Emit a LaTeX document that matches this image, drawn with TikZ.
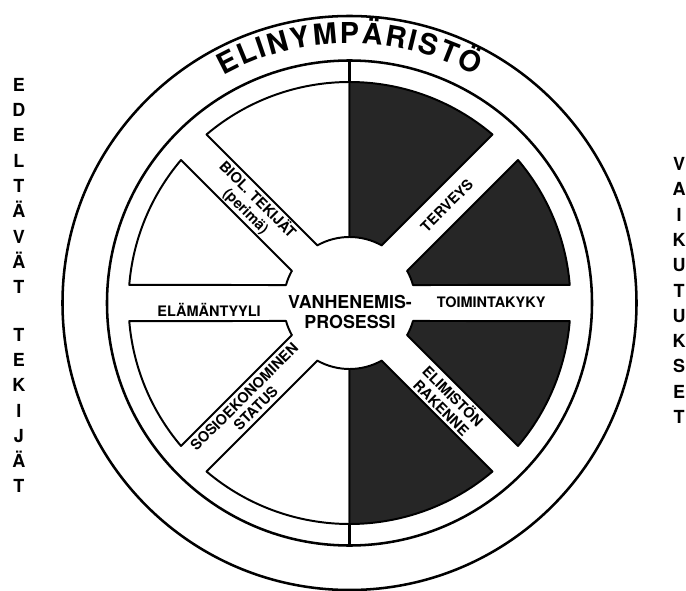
\documentclass[tikz,border=0pt]{standalone}
\usepackage{fontspec}
\setmainfont{TeX Gyre Heros}
\usetikzlibrary{decorations.text}

\begin{document}
\begin{tikzpicture}[
    ring/.style={draw=black, line width=1.8pt},
    lightsec/.style={draw=black, line width=1.4pt, fill=white, line join=round},
    darksec/.style={draw=black, line width=1.4pt, fill=black!85, line join=round},
    bandlabel/.style={font=\bfseries\fontsize{10.3}{11.6}\selectfont, align=center, inner sep=0pt},
    sidetext/.style={font=\bfseries\fontsize{12.8}{18}\selectfont, align=center, inner sep=0pt}
]
    \useasboundingbox (-8.7375,-7.175) rectangle (8.4125,7.575);

    % Elinympäristö ring
    \draw[ring] (0,0) circle (7.175);
    \draw[ring] (0,0) circle (6.0625);
    \path[decorate, decoration={text along path, text align={fit to path},
        text={|\bfseries\fontsize{20.5}{20.5}\selectfont|ELINYMPÄRISTÖ}}]
        (119:6.5) arc[start angle=119, end angle=61, radius=6.5];
    \draw[ring] (90:5.525) -- (90:6.0625);
    \draw[ring] (270:5.525) -- (270:6.0625);

    % Sectors, left half (causes)
    \draw[lightsec] (90:1.65) -- (90:5.525) arc[start angle=90, end angle=130.3, radius=5.525] -- (119.2:1.65) arc[start angle=119.2, end angle=90, radius=1.65] -- cycle;
    \draw[lightsec] (150.8:1.65) -- (139.7:5.525) arc[start angle=139.7, end angle=175.3, radius=5.525] -- (164.2:1.65) arc[start angle=164.2, end angle=150.8, radius=1.65] -- cycle;
    \draw[lightsec] (195.8:1.65) -- (184.7:5.525) arc[start angle=184.7, end angle=220.3, radius=5.525] -- (209.2:1.65) arc[start angle=209.2, end angle=195.8, radius=1.65] -- cycle;
    \draw[lightsec] (240.8:1.65) -- (229.7:5.525) arc[start angle=229.7, end angle=270, radius=5.525] -- (270:1.65) arc[start angle=270, end angle=240.8, radius=1.65] -- cycle;

    % Sectors, right half (effects)
    \draw[darksec] (15.8:1.65) -- (4.7:5.525) arc[start angle=4.7, end angle=40.3, radius=5.525] -- (29.2:1.65) arc[start angle=29.2, end angle=15.8, radius=1.65] -- cycle;
    \draw[darksec] (60.8:1.65) -- (49.7:5.525) arc[start angle=49.7, end angle=90, radius=5.525] -- (90:1.65) arc[start angle=90, end angle=60.8, radius=1.65] -- cycle;
    \draw[darksec] (270:1.65) -- (270:5.525) arc[start angle=270, end angle=310.3, radius=5.525] -- (299.2:1.65) arc[start angle=299.2, end angle=270, radius=1.65] -- cycle;
    \draw[darksec] (330.8:1.65) -- (319.7:5.525) arc[start angle=319.7, end angle=355.3, radius=5.525] -- (344.2:1.65) arc[start angle=344.2, end angle=330.8, radius=1.65] -- cycle;

    % Hub and spoke labels
    \node[font=\bfseries\fontsize{12.7}{14.6}\selectfont, align=center, inner sep=0pt] (hub) at (0.0125,-0.225) {VANHENEMIS-\\PROSESSI};
    \node[bandlabel] (elamantyyli) at (-3.51,-0.175) {ELÄMÄNTYYLI};
    \node[bandlabel] (toimintakyky) at (3.54,0.025) {TOIMINTAKYKY};
    \node[bandlabel, rotate=-45] (biol) at (135:3.45) {BIOL. TEKIJÄT\\(perimä)};
    \node[bandlabel, rotate=45] (terveys) at (45:3.44) {TERVEYS};
    \node[bandlabel, rotate=45] (sosio) at (225:3.52) {SOSIOEKONOMINEN\\STATUS};
    \node[bandlabel, rotate=-45] (elimisto) at (315:3.48) {ELIMISTÖN\\RAKENNE};

    % Side columns
    \node[sidetext] (edeltavat) at (-8.2625,2.925) {E\\D\\E\\L\\T\\Ä\\V\\Ä\\T};
    \node[sidetext] (tekijat) at (-8.2625,-2.6875) {T\\E\\K\\I\\J\\Ä\\T};
    \node[sidetext] (vaikutukset) at (8.2375,0.3125) {V\\A\\I\\K\\U\\T\\U\\K\\S\\E\\T};

\end{tikzpicture}
\end{document}
